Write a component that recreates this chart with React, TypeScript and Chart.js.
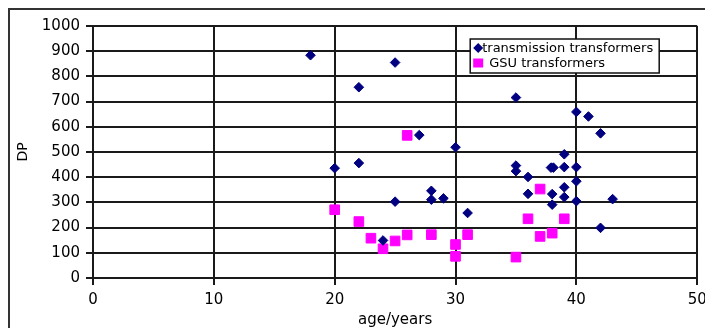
import { useEffect, useRef } from 'react';
import { Chart, registerables } from 'chart.js';

Chart.register(...registerables);

// ---- data ----
const seriesNames = ['transmission transformers', 'GSU transformers'];

const transmissionAge = [18, 20, 22, 22, 24, 25, 25, 27, 28, 28, 29, 30, 31, 35, 35, 35, 36, 36, 37.9, 38.1, 38, 38, 39, 39, 39, 39, 40, 40, 40, 40, 41, 42, 42, 43];
const transmissionDP = [884, 436, 757, 456, 149, 855, 303, 567, 346, 311, 316, 519, 258, 716, 446, 424, 401, 334, 438, 438, 333, 291, 491, 440, 360, 321, 659, 440, 384, 305, 641, 574, 199, 313];

const gsuAge = [20, 22, 23, 24, 25, 26, 26, 28, 30, 30, 31, 35, 36, 37, 37, 38, 39];
const gsuDP = [271, 224, 158, 116, 147, 171, 566, 172, 133, 86, 172, 83, 235, 353, 165, 178, 235];

const xAxisTitle = 'age/years';
const yAxisTitle = 'DP';
const xMin = 0, xMax = 50, xStep = 10;
const yMin = 0, yMax = 1000, yStep = 100;

const NAVY = '#000080';
const MAGENTA = '#FF00FF';
const GRID = '#1a1a1a';
const FONT = 'DejaVu Sans';

const toPoints = (xs: number[], ys: number[]) => xs.map((x, i) => ({ x, y: ys[i] }));

const framePlugin = {
  id: 'frame',
  beforeDraw(chart: any) {
    const { ctx, width, height } = chart;
    ctx.save();
    ctx.fillStyle = '#ffffff';
    ctx.fillRect(0, 0, width, height);
    ctx.strokeStyle = '#333333';
    ctx.lineWidth = 2;
    ctx.strokeRect(9, 9, width + 20, height + 20);
    ctx.restore();
  },
};

const legendPlugin = {
  id: 'boxLegend',
  afterDatasetsDraw(chart: any) {
    const { ctx, chartArea } = chart;
    const left = chartArea.right - 227;
    const top = chartArea.top + 13;
    const w = 189;
    const h = 34;
    ctx.save();
    ctx.fillStyle = '#ffffff';
    ctx.fillRect(left, top, w, h);
    ctx.strokeStyle = '#111111';
    ctx.lineWidth = 1.5;
    ctx.strokeRect(left, top, w, h);

    // diamond
    const dx = left + 8, dy = top + 9;
    ctx.fillStyle = NAVY;
    ctx.beginPath();
    ctx.moveTo(dx - 5, dy);
    ctx.lineTo(dx, dy - 5);
    ctx.lineTo(dx + 5, dy);
    ctx.lineTo(dx, dy + 5);
    ctx.closePath();
    ctx.fill();

    // square
    const sx = left + 8, sy = top + 24;
    ctx.fillStyle = MAGENTA;
    ctx.fillRect(sx - 5, sy - 4.5, 10, 9);

    ctx.fillStyle = '#000000';
    ctx.font = `13px "${FONT}"`;
    ctx.textBaseline = 'middle';
    ctx.textAlign = 'left';
    ctx.fillText(seriesNames[0], left + 12, dy + 0.5);
    ctx.fillText(seriesNames[1], left + 19, sy + 0.5);
    ctx.restore();
  },
};

export default function App() {
  const ref = useRef<HTMLCanvasElement>(null);

  useEffect(() => {
    const chart = new Chart(ref.current as HTMLCanvasElement, {
      type: 'scatter',
      data: {
        datasets: [
          {
            label: seriesNames[0],
            data: toPoints(transmissionAge, transmissionDP),
            pointStyle: 'rectRot',
            pointRadius: 4.8,
            pointBorderWidth: 1,
            borderColor: NAVY,
            backgroundColor: NAVY,
            pointBackgroundColor: NAVY,
            pointBorderColor: NAVY,
          },
          {
            label: seriesNames[1],
            data: toPoints(gsuAge, gsuDP),
            pointStyle: 'rect',
            pointRadius: 6.8,
            pointBorderWidth: 1,
            borderColor: MAGENTA,
            backgroundColor: MAGENTA,
            pointBackgroundColor: MAGENTA,
            pointBorderColor: MAGENTA,
          },
        ],
      },
      options: {
        responsive: false,
        animation: false,
        devicePixelRatio: 1,
        layout: { padding: { left: 0, top: 26, right: 5, bottom: 0 } },
        plugins: {
          legend: { display: false },
          tooltip: { enabled: false },
        },
        scales: {
          x: {
            type: 'linear',
            min: xMin,
            max: xMax,
            ticks: {
              stepSize: xStep,
              color: '#000',
              padding: 6,
              maxRotation: 0,
              font: { family: FONT, size: 15 },
              callback: (v: any) => String(v),
            },
            grid: { color: GRID, lineWidth: 2, tickLength: 7, drawTicks: true },
            border: { color: GRID, width: 2 },
            title: {
              display: true,
              text: xAxisTitle,
              color: '#000',
              font: { family: FONT, size: 15, lineHeight: 1 },
              padding: { top: 0, bottom: 0 },
            },
            afterFit(scale: any) {
              scale.height = 50;
              scale.paddingLeft = 0;
              scale.paddingRight = 0;
            },
          },
          y: {
            type: 'linear',
            min: yMin,
            max: yMax,
            ticks: {
              stepSize: yStep,
              color: '#000',
              padding: 6,
              font: { family: FONT, size: 15 },
              callback: (v: any) => String(v),
            },
            grid: { color: GRID, lineWidth: 2, tickLength: 7, drawTicks: true },
            border: { color: GRID, width: 2 },
            title: {
              display: true,
              text: yAxisTitle,
              color: '#000',
              font: { family: FONT, size: 14 },
              padding: { top: 15, bottom: 0 },
            },
            afterFit(scale: any) {
              scale.width = 93;
            },
          },
        },
      },
      plugins: [framePlugin, legendPlugin],
    });
    return () => chart.destroy();
  }, []);

  return (
    <div style={{ position: 'fixed', left: 0, top: 0, width: 705, height: 328, background: '#fff' }}>
      <canvas ref={ref} width={705} height={328} />
    </div>
  );
}
